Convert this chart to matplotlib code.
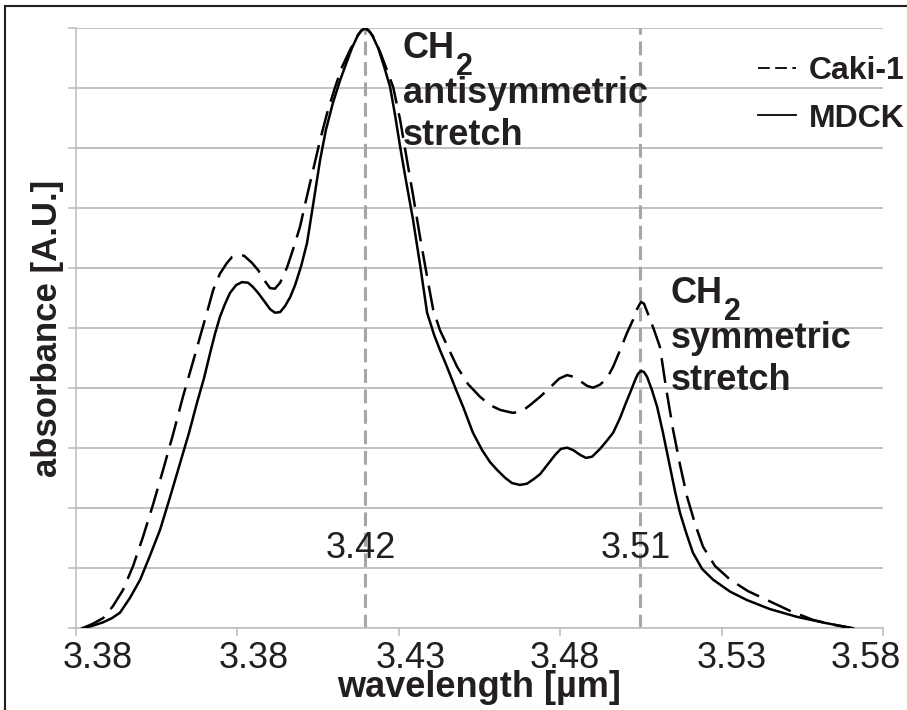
import numpy as np
import matplotlib
matplotlib.use("Agg")
import matplotlib.pyplot as plt
import matplotlib.transforms as mtransforms
from matplotlib.lines import Line2D
from matplotlib.patches import Rectangle

plt.rcParams['font.family'] = ['Liberation Sans', 'DejaVu Sans']

# spectra (wavelength in um, absorbance normalised to 10 at the main peak)
wl_mdck = [3.3274, 3.3307, 3.3343, 3.3372, 3.3398, 3.3431, 3.3464, 3.3496, 3.3529, 3.3562,
           3.3595, 3.3624, 3.3650, 3.3673, 3.3693, 3.3709, 3.3725, 3.3742, 3.3758, 3.3778,
           3.3797, 3.3817, 3.3833, 3.3850, 3.3869, 3.3889, 3.3905, 3.3922, 3.3938, 3.3955,
           3.3971, 3.3991, 3.4010, 3.4030, 3.4053, 3.4072, 3.4095, 3.4118, 3.4138, 3.4157,
           3.4177, 3.4190, 3.4200, 3.4210, 3.4223, 3.4243, 3.4262, 3.4282, 3.4298, 3.4315,
           3.4334, 3.4357, 3.4380, 3.4403, 3.4426, 3.4445, 3.4468, 3.4495, 3.4521, 3.4553,
           3.4583, 3.4609, 3.4632, 3.4658, 3.4681, 3.4707, 3.4730, 3.4753, 3.4773, 3.4796,
           3.4822, 3.4841, 3.4861, 3.4881, 3.4904, 3.4923, 3.4943, 3.4969, 3.4992, 3.5012,
           3.5035, 3.5054, 3.5067, 3.5084, 3.5093, 3.5103, 3.5113, 3.5123, 3.5139, 3.5156,
           3.5175, 3.5198, 3.5215, 3.5231, 3.5251, 3.5273, 3.5303, 3.5339, 3.5395, 3.5450,
           3.5525, 3.5614, 3.5705, 3.5797]
abs_mdck = [0.00, 0.04, 0.10, 0.17, 0.26, 0.51, 0.81, 1.21, 1.64, 2.19,
            2.76, 3.26, 3.76, 4.17, 4.59, 4.91, 5.19, 5.41, 5.59, 5.72,
            5.77, 5.76, 5.69, 5.59, 5.46, 5.32, 5.26, 5.27, 5.37, 5.52,
            5.72, 6.04, 6.42, 7.06, 7.81, 8.31, 8.76, 9.13, 9.41, 9.67,
            9.89, 9.97, 10.00, 9.97, 9.89, 9.67, 9.37, 9.02, 8.56, 8.02,
            7.46, 6.81, 6.06, 5.26, 4.89, 4.64, 4.36, 4.01, 3.69, 3.26,
            2.97, 2.77, 2.64, 2.51, 2.42, 2.39, 2.41, 2.49, 2.57, 2.72,
            2.89, 2.99, 3.01, 2.97, 2.89, 2.84, 2.86, 2.99, 3.13, 3.26,
            3.51, 3.76, 3.92, 4.14, 4.24, 4.29, 4.27, 4.19, 3.97, 3.69,
            3.26, 2.69, 2.27, 1.92, 1.59, 1.26, 0.99, 0.81, 0.61, 0.47,
            0.32, 0.19, 0.09, 0.00]

wl_caki = [3.3274, 3.3307, 3.3343, 3.3375, 3.3408, 3.3441, 3.3473, 3.3506, 3.3539, 3.3572,
           3.3604, 3.3634, 3.3660, 3.3683, 3.3703, 3.3725, 3.3748, 3.3765, 3.3784, 3.3804,
           3.3830, 3.3850, 3.3869, 3.3889, 3.3905, 3.3922, 3.3945, 3.3964, 3.3987, 3.4007,
           3.4030, 3.4053, 3.4076, 3.4102, 3.4125, 3.4151, 3.4171, 3.4187, 3.4200, 3.4213,
           3.4229, 3.4249, 3.4269, 3.4292, 3.4315, 3.4337, 3.4357, 3.4380, 3.4403, 3.4423,
           3.4445, 3.4468, 3.4501, 3.4537, 3.4576, 3.4609, 3.4642, 3.4684, 3.4714, 3.4740,
           3.4773, 3.4805, 3.4835, 3.4861, 3.4884, 3.4907, 3.4927, 3.4946, 3.4969, 3.4992,
           3.5012, 3.5035, 3.5057, 3.5077, 3.5090, 3.5103, 3.5113, 3.5126, 3.5146, 3.5165,
           3.5185, 3.5208, 3.5231, 3.5254, 3.5280, 3.5306, 3.5345, 3.5395, 3.5453, 3.5516,
           3.5591, 3.5666, 3.5732, 3.5797]
abs_caki = [0.00, 0.07, 0.17, 0.37, 0.64, 1.04, 1.52, 2.06, 2.64, 3.24,
            3.86, 4.39, 4.86, 5.27, 5.64, 5.91, 6.09, 6.19, 6.22, 6.21,
            6.09, 5.97, 5.81, 5.67, 5.66, 5.76, 6.02, 6.31, 6.69, 7.14,
            7.64, 8.14, 8.59, 9.02, 9.36, 9.64, 9.84, 9.96, 10.00, 9.96,
            9.84, 9.61, 9.34, 9.02, 8.47, 7.81, 7.22, 6.52, 5.86, 5.31,
            4.97, 4.72, 4.36, 4.07, 3.86, 3.72, 3.64, 3.59, 3.62, 3.72,
            3.86, 4.01, 4.16, 4.22, 4.19, 4.11, 4.04, 4.01, 4.06, 4.17,
            4.36, 4.64, 4.92, 5.14, 5.32, 5.44, 5.41, 5.24, 4.97, 4.69,
            4.01, 3.31, 2.72, 2.19, 1.74, 1.36, 1.04, 0.81, 0.62, 0.47,
            0.29, 0.14, 0.06, 0.00]

series_names = ["Caki-1", "MDCK"]
peak_wl = [3.42, 3.51]
peak_labels = ["3.42", "3.51"]
x_tick_labels = ["3.38", "3.38", "3.43", "3.48", "3.53", "3.58"]
x_min, x_max = 3.3254, 3.5895

fig = plt.figure(figsize=(9.07, 7.10), dpi=100)
ax = fig.add_axes([0.0838, 0.1151, 0.8897, 0.845])

grid_c = "#c0c0c0"
text_c = "#231f20"
ax.set_xlim(x_min, x_max)
ax.set_ylim(0, 10)
ax.set_yticks(np.arange(0, 11, 1))
ax.set_yticklabels([])
ax.set_xticks(np.linspace(x_min, x_max, 6))
ax.set_xticklabels(x_tick_labels)
ax.yaxis.grid(True, color=grid_c, lw=1.4)
ax.set_axisbelow(True)
for s in ["top", "right"]:
    ax.spines[s].set_visible(False)
for s in ["left", "bottom"]:
    ax.spines[s].set_color(grid_c)
    ax.spines[s].set_linewidth(1.2)
ax.tick_params(axis="both", color=grid_c, width=1.2, length=6,
               labelsize=26, labelcolor=text_c, pad=3)

# the tick labels sit a little off their ticks in the original
label_shift_px = [22, 16, 12, 5, 10, -17]
for lab, dx in zip(ax.get_xticklabels(), label_shift_px):
    lab.set_transform(lab.get_transform() +
                      mtransforms.ScaledTranslation(dx / 100, 0, fig.dpi_scale_trans))

# peak markers
for p, lab in zip(peak_wl, peak_labels):
    ax.plot([p, p], [0, 10], color="#a6a6a6", lw=2.2, ls=(0, (4.5, 2.2)), zorder=2)
    ax.annotate(lab, (p, 1.17), xytext=(-3, 0), textcoords="offset points",
                ha="center", va="baseline", fontsize=26, color=text_c, zorder=5)

ax.plot(wl_caki, abs_caki, color="black", lw=1.8, ls=(0, (10, 4)), zorder=3)
ax.plot(wl_mdck, abs_mdck, color="black", lw=1.8, solid_joinstyle="round", zorder=3)

# band annotations
def band_label(x, y, word):
    t = ax.text(x, y, "CH", fontsize=26, fontweight="bold", color=text_c,
                va="baseline", ha="left")
    ax.annotate("2", xy=(1, 0), xycoords=t, xytext=(0.5, -6.5),
                textcoords="offset points", fontsize=22, fontweight="bold",
                color=text_c, va="baseline", ha="left")
    ax.text(x, y - 0.745, word, fontsize=26, fontweight="bold",
            color=text_c, va="baseline", ha="left")
    ax.text(x, y - 1.445, "stretch", fontsize=26, fontweight="bold",
            color=text_c, va="baseline", ha="left")

band_label(3.4324, 9.50, "antisymmetric")
band_label(3.5201, 5.42, "symmetric")

ax.set_xlabel("wavelength [µm]", fontsize=26, fontweight="bold",
              color=text_c, labelpad=-4)
ax.set_ylabel("absorbance [A.U.]", fontsize=25, fontweight="bold",
              color=text_c, labelpad=0)

handles = [Line2D([], [], color="black", lw=1.3, ls=(0, (6.5, 3))),
           Line2D([], [], color="black", lw=1.3)]
ax.legend(handles, series_names, loc="upper right",
          bbox_to_anchor=(905 / 907, 1 - 56 / 710), bbox_transform=fig.transFigure,
          frameon=False, prop={"size": 23, "weight": "bold"},
          handlelength=1.2, handletextpad=0.4, labelspacing=0.55,
          borderpad=0, borderaxespad=0, labelcolor=text_c)

# outer frame, cut at the right and bottom edges
fig.patches.append(Rectangle((5 / 907, -0.05), 1.2, 1 - 6 / 710 + 0.05,
                             transform=fig.transFigure, fill=False,
                             ec=text_c, lw=1.5))

fig.savefig("out.png", dpi=100)
